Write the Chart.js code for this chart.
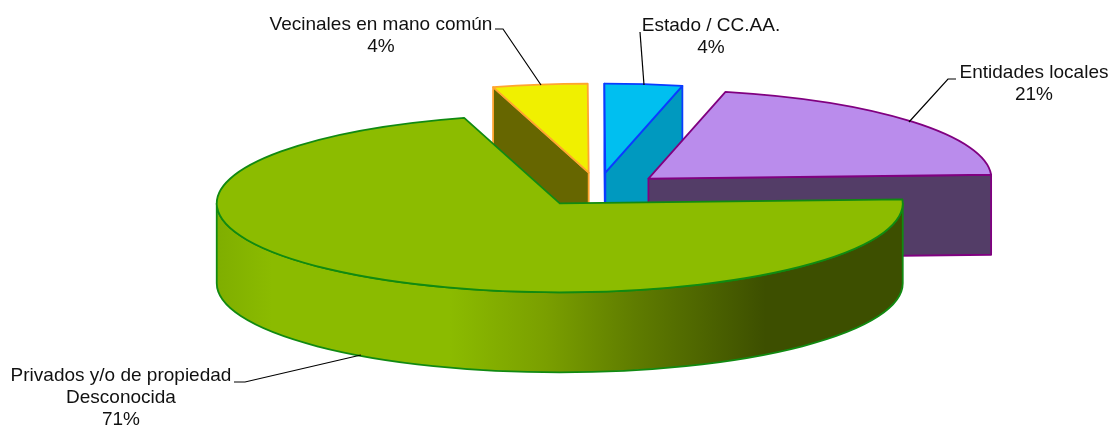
<!DOCTYPE html>
<html lang="es">
<head>
<meta charset="utf-8">
<title>Propiedad</title>
<script src="https://cdn.jsdelivr.net/npm/chart.js@4"></script>
<style>
  html, body { margin: 0; padding: 0; background: #fff; }
  canvas { display: block; }
</style>
</head>
<body>
<canvas id="pie3d" width="1111" height="427"></canvas>
<script>
"use strict"

// values, they round to the printed 71 / 4 / 4 / 21
const categories = ["Privados y/o de propiedad\nDesconocida", "Vecinales en mano común", "Estado / CC.AA.", "Entidades locales"];
const shares = [71.2, 4.45, 3.65, 20.7];

const topColors = ["#8cbc00", "#f0f000", "#00bff0", "#ba8cec"];
const wallColors = ["#3d4f00", "#666600", "#0099bf", "#533d67"];
const borderColors = ["#118a11", "#ffa530", "#0a3cff", "#800080"];

// ellipse size and height of the pie in pixels
const RX = 343;
const RY = 89;
const DEPTH = 80;

// label centre, line y positions and leader line for every slice
const labelBoxes = [
  { x: 121, y: [376, 398, 420], line: [[234, 382], [245, 382], [361, 355]] },
  { x: 381, y: [25, 47], line: [[495, 29], [503, 29], [541, 85]] },
  { x: 711, y: [26, 48], line: [[640, 32], [644, 85]] },
  { x: 1034, y: [73, 95], line: [[956, 79], [948, 79], [909, 122]] },
];

const frontGradient = [
  [0, "#7fae00"], [0.08, "#8bbb00"], [0.34, "#8bbb00"], [0.48, "#7a9f00"],
  [0.61, "#5f7c00"], [0.8, "#3d4f00"], [1, "#3d4f00"],
];

function wallFill(ctx, tipX, index) {
  if (index !== 0) return wallColors[index];
  const grad = ctx.createLinearGradient(tipX - RX, 0, tipX + RX, 0);
  frontGradient.forEach((s) => grad.addColorStop(s[0], s[1]));
  return grad;
}

function paint(ctx, fill, stroke) {
  ctx.fillStyle = fill;
  ctx.fill();
  ctx.strokeStyle = stroke;
  ctx.lineWidth = 1.8;
  ctx.lineJoin = "round";
  ctx.stroke();
}

function midAngle(arc) {
  return (arc.startAngle + arc.endAngle) / 2;
}

function drawSlice(ctx, arc, index) {
  const R = arc.outerRadius;
  const a0 = arc.startAngle;
  const a1 = arc.endAngle;
  const mid = midAngle(arc);
  const explode = arc.options.offset / R;
  const tipX = arc.x + Math.cos(mid) * explode * RX;
  const tipY = arc.y + Math.sin(mid) * explode * RY;
  const fill = wallFill(ctx, tipX, index);
  const stroke = borderColors[index];

  // flat side walls, only the ones turned to the viewer
  [[a0, -Math.PI / 2], [a1, Math.PI / 2]].forEach((edge) => {
    if (Math.sin(edge[0] + edge[1]) <= 0) return;
    const ex = tipX + Math.cos(edge[0]) * RX;
    const ey = tipY + Math.sin(edge[0]) * RY;
    ctx.beginPath();
    ctx.moveTo(tipX, tipY);
    ctx.lineTo(ex, ey);
    ctx.lineTo(ex, ey + DEPTH);
    ctx.lineTo(tipX, tipY + DEPTH);
    ctx.closePath();
    paint(ctx, wallColors[index], stroke);
  });

  // round wall, visible part is where the angle is between 0 and 180 degrees
  const from = Math.max(a0, 0);
  const to = Math.min(a1, Math.PI);
  if (to > from) {
    ctx.beginPath();
    ctx.ellipse(tipX, tipY, RX, RY, 0, from, to);
    ctx.ellipse(tipX, tipY + DEPTH, RX, RY, 0, to, from, true);
    ctx.closePath();
    paint(ctx, fill, stroke);
  }

  // top face
  ctx.beginPath();
  ctx.moveTo(tipX, tipY);
  ctx.ellipse(tipX, tipY, RX, RY, 0, a0, a1);
  ctx.closePath();
  paint(ctx, topColors[index], stroke);
}

const pie3d = {
  id: "pie3d",
  beforeDatasetsDraw(chart) {
    const ctx = chart.ctx;
    const arcs = chart.getDatasetMeta(0).data;
    const order = arcs.map((arc, i) => i);
    // back slices first, the ones nearer the viewer go over their walls
    order.sort((a, b) => Math.sin(midAngle(arcs[a])) - Math.sin(midAngle(arcs[b])));
    ctx.save();
    order.forEach((i) => drawSlice(ctx, arcs[i], i));
    ctx.restore();
    return false;
  },
  afterDraw(chart) {
    const ctx = chart.ctx;
    ctx.save();
    ctx.font = "19px 'Liberation Sans', Arial, sans-serif";
    ctx.fillStyle = "#111";
    ctx.strokeStyle = "#000";
    ctx.lineWidth = 1.2;
    ctx.textAlign = "center";
    ctx.textBaseline = "middle";
    labelBoxes.forEach((box, i) => {
      const lines = categories[i].split("\n").concat(Math.round(shares[i]) + "%");
      lines.forEach((text, n) => ctx.fillText(text, box.x, box.y[n]));
      ctx.beginPath();
      box.line.forEach((p, n) => (n ? ctx.lineTo(p[0], p[1]) : ctx.moveTo(p[0], p[1])));
      ctx.stroke();
    });
    ctx.restore();
  },
};

new Chart(document.querySelector("#pie3d"), {
  type: "pie",
  data: {
    labels: categories,
    datasets: [
      {
        data: shares,
        backgroundColor: topColors,
        borderColor: borderColors,
        borderWidth: 1,
        offset: 33,
      },
    ],
  },
  options: {
    responsive: false,
    animation: false,
    rotation: 87.5,
    layout: { padding: { left: 85, bottom: 48 } },
    plugins: {
      legend: { display: false },
      tooltip: { enabled: false },
    },
  },
  plugins: [pie3d],
});
</script>
</body>
</html>
